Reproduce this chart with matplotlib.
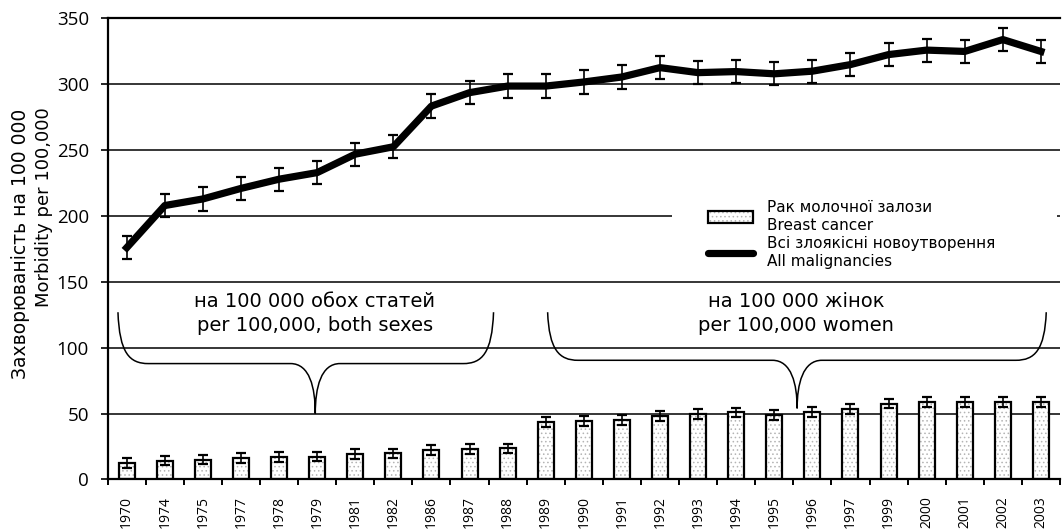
import matplotlib
matplotlib.use("Agg")
import matplotlib.pyplot as plt
from matplotlib.path import Path
from matplotlib.patches import PathPatch, Patch, Rectangle
from matplotlib.lines import Line2D
from matplotlib.legend_handler import HandlerTuple
import numpy as np

# data
years = ['1970', '1974', '1975', '1977', '1978', '1979', '1981', '1982', '1986',
         '1987', '1988', '1989', '1990', '1991', '1992', '1993', '1994', '1995',
         '1996', '1997', '1999', '2000', '2001', '2002', '2003']
breast = [12.6, 14.4, 15.1, 16.2, 16.9, 17.4, 19.1, 19.8, 22.3, 23.1, 23.6,
          43.6, 44.3, 45.3, 48.3, 49.6, 50.9, 49.1, 51.3, 53.5, 57.6, 58.6,
          58.6, 58.8, 58.8]
breast_err = [3.7] * len(years)
all_mal = [176, 208, 213, 221, 228, 233, 247, 252.6, 283.5, 293.7, 298.7,
           298.7, 301.8, 305.6, 312.7, 308.9, 309.7, 308, 310, 315, 322.6,
           326, 325, 334, 325]
all_err = [8.8] * len(years)

lbl_breast = 'Рак молочної залози\nBreast cancer'
lbl_all = 'Всі злоякісні новоутворення\nAll malignancies'
ylab_ua = 'Захворюваність на 100 000'
ylab_en = 'Morbidity per 100,000'
note_left = 'на 100 000 обох статей\nper 100,000, both sexes'
note_right = 'на 100 000 жінок\nper 100,000 women'

dot_col = '#b4b4b4'
plt.rcParams['hatch.linewidth'] = 0.6

fig = plt.figure(figsize=(10.64, 5.3), dpi=100)
ax = fig.add_axes([0.1012, 0.0953, 0.895, 0.8698])
ax.set_axisbelow(True)

x = np.arange(len(years))

# bars: dotted fill then black outline
ax.bar(x, breast, width=0.42, color='white', edgecolor=dot_col, hatch='....',
       linewidth=0, zorder=1)
ax.bar(x, breast, width=0.42, facecolor='none', edgecolor='black',
       linewidth=1.6, zorder=1.2)
ax.errorbar(x, breast, yerr=breast_err, fmt='none', ecolor='black',
            elinewidth=1.2, capsize=3.8, capthick=1.6, zorder=3)

ax.errorbar(x, all_mal, yerr=all_err, fmt='none', ecolor='black',
            elinewidth=1.2, capsize=3.8, capthick=1.6, zorder=3)
ax.plot(x, all_mal, color='black', linewidth=5.2, solid_joinstyle='round',
        zorder=4)


def brace(ax, xl, xr, xm, ytop, yh, ytip):
    verts = [(xl, ytop),
             (xl + 0.04, yh + 8), (xl + 0.3, yh), (xl + 0.8, yh),
             (xm - 0.65, yh),
             (xm - 0.15, yh), (xm, yh - 18), (xm, ytip),
             (xm, yh - 18), (xm + 0.15, yh), (xm + 0.65, yh),
             (xr - 0.8, yh),
             (xr - 0.3, yh), (xr - 0.04, yh + 8), (xr, ytop)]
    codes = [Path.MOVETO,
             Path.CURVE4, Path.CURVE4, Path.CURVE4,
             Path.LINETO,
             Path.CURVE4, Path.CURVE4, Path.CURVE4,
             Path.CURVE4, Path.CURVE4, Path.CURVE4,
             Path.LINETO,
             Path.CURVE4, Path.CURVE4, Path.CURVE4]
    ax.add_patch(PathPatch(Path(verts, codes), facecolor='none',
                           edgecolor='black', linewidth=1.1, zorder=2))


brace(ax, -0.23, 9.63, 4.95, 127, 88, 50)
brace(ax, 11.05, 24.14, 17.6, 127, 90.5, 54)

ax.text(4.94, 126, note_left, ha='center', va='center', fontsize=14,
        linespacing=1.35, family='DejaVu Sans')
ax.text(17.57, 126, note_right, ha='center', va='center', fontsize=14,
        linespacing=1.35, family='DejaVu Sans')

ax.set_xlim(-0.5, len(years) - 0.5)
ax.set_ylim(0, 350)
ax.set_yticks(np.arange(0, 351, 50))
ax.set_xticks(x)
ax.set_xticklabels(years, rotation=90, family='Open Sans', fontsize=10)
ax.set_xticks(np.arange(-0.5, len(years), 1), minor=True)
ax.tick_params(axis='x', which='major', length=0, pad=12)
ax.tick_params(axis='x', which='minor', length=4.5, width=1.4, direction='out')
ax.tick_params(axis='y', length=5, width=1.2, pad=8.5, labelsize=13.5)
for t in ax.get_yticklabels():
    t.set_family('Open Sans')

ax.grid(axis='y', color='black', linewidth=1.1)
ax.spines['right'].set_visible(False)
ax.spines['top'].set_linewidth(1.6)
ax.spines['left'].set_linewidth(1.6)
ax.spines['bottom'].set_linewidth(1.6)

# two-line y axis title
fig.text(0.0188, 0.5396, ylab_ua, rotation=90, ha='center', va='center',
         fontsize=13.5, family='DejaVu Sans')
fig.text(0.0414, 0.609, ylab_en, rotation=90, ha='center', va='center',
         fontsize=13, family='DejaVu Sans')

# white space behind the legend
ax.add_patch(Rectangle((0.5926, 0.53), 0.4043, 0.087, transform=ax.transAxes,
                       facecolor='white', edgecolor='none', zorder=1.5))

h_bar = (Patch(facecolor='white', edgecolor=dot_col, hatch='....', linewidth=0),
         Patch(facecolor='none', edgecolor='black', linewidth=1.6))
h_line = Line2D([], [], color='black', linewidth=5.2, solid_capstyle='round')
leg = fig.legend([h_bar, h_line], [lbl_breast, lbl_all],
                 handler_map={tuple: HandlerTuple(ndivide=1, pad=0)},
                 loc='upper left', bbox_to_anchor=(0.665, 0.623),
                 frameon=False, borderpad=0, borderaxespad=0,
                 handlelength=3.0, handleheight=0.8, handletextpad=0.9,
                 labelspacing=0.15,
                 prop={'family': 'DejaVu Sans', 'size': 11})
for t in leg.get_texts():
    t.set_linespacing(1.3)

fig.savefig('out.png', dpi=100)
